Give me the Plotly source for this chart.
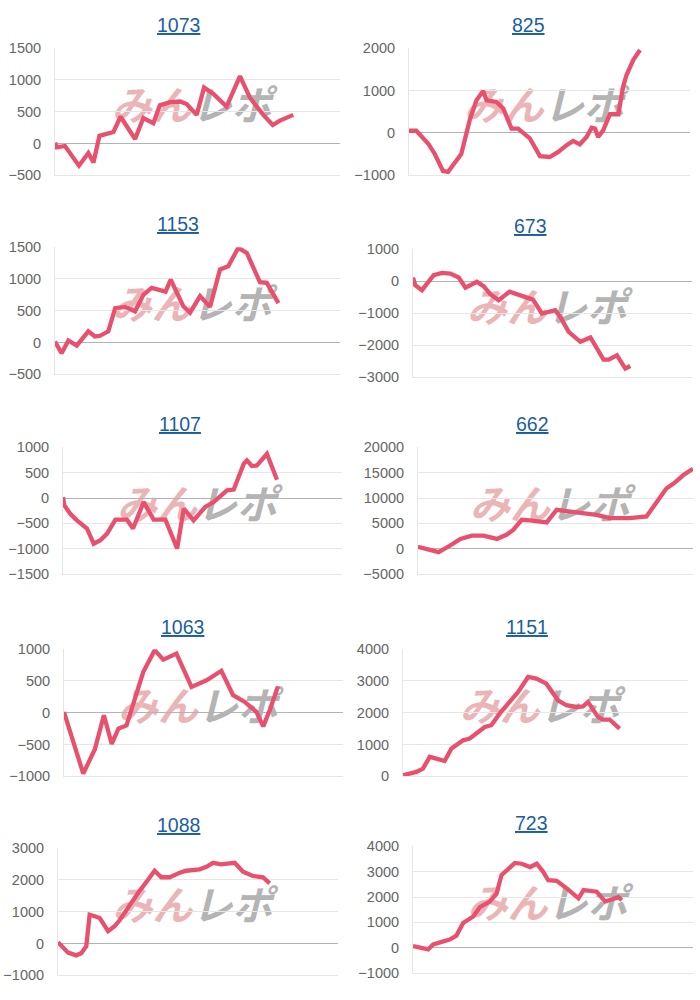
import plotly.graph_objects as go

# ---------------- data ----------------
titles = ["1073", "825", "1153", "673", "1107", "662", "1063", "1151", "1088", "723"]

x_1073 = [0, 0.6, 3.5, 8.4, 11.7, 13.5, 15.6, 18.1, 20.5, 23.0, 28.1, 31.0, 34.5, 36.8, 40.4, 43.9,
          46.2, 49.7, 52.3, 55.6, 60.2, 64.9, 68.4, 73.1, 76.4, 78.9, 83.6]
y_1073 = [10, -60, -40, -350, -150, -300, 120, 150, 180, 420, 70, 400, 320, 600, 650, 660,
          620, 450, 880, 780, 580, 1060, 720, 450, 290, 360, 450]

x_825 = [0, 2.6, 6.8, 9.1, 12.1, 13.9, 15.7, 18.6, 21.6, 24.0, 26.4, 27.6, 31.1, 33.5, 36.5, 38.8,
         43.0, 44.8, 46.6, 50.1, 53.1, 56.1, 58.4, 60.8, 63.2, 65.0, 66.2, 67.3, 69.1, 71.5, 74.5,
         76.2, 77.4, 79.8, 82.2]
y_825 = [50, 50, -250, -490, -900, -920, -760, -500, 300, 770, 990, 770, 730, 580, 100, 100,
         -130, -330, -550, -570, -450, -290, -190, -270, -95, 120, 100, -95, 60, 440, 440,
         1090, 1365, 1720, 1957]

x_1153 = [0, 2.3, 4.7, 7.6, 11.7, 14.0, 15.8, 18.7, 21.1, 24.6, 28.1, 31.0, 33.9, 36.8, 38.8, 40.6,
          42.7, 45.0, 47.4, 50.9, 54.4, 57.9, 60.8, 64.3, 67.3, 70.8, 71.9, 74.3, 78.4]
y_1153 = [15, -170, 30, -50, 175, 95, 105, 175, 540, 560, 490, 750, 860, 830, 800, 990,
          780, 570, 470, 730, 560, 1150, 1200, 1490, 1410, 1040, 950, 940, 620]

x_673 = [0, 0.8, 3.2, 7.4, 10.4, 13.4, 16.4, 18.8, 22.9, 25.3, 27.7, 30.7, 34.6, 37.3, 40.3, 43.0,
         46.2, 48.6, 51.0, 52.8, 55.8, 60.0, 63.6, 68.3, 70.1, 73.1, 76.1, 77.9]
y_673 = [115, -125, -280, 190, 260, 240, 115, -200, -20, -155, -405, -595, -330, -405, -490, -575,
         -1010, -960, -905, -1115, -1585, -1895, -1760, -2450, -2450, -2315, -2730, -2650]

x_1107 = [0, 0.5, 2.6, 5.0, 8.6, 11.0, 13.4, 15.8, 18.8, 22.9, 25.1, 28.9, 32.5, 36.7, 40.9, 43.3,
          46.8, 51.0, 54.0, 58.8, 61.2, 64.8, 65.9, 67.7, 69.5, 73.1, 76.7]
y_1107 = [20, -145, -310, -440, -600, -900, -830, -700, -425, -425, -600, -80, -425, -425, -995, -210,
          -440, -175, -80, 150, 165, 675, 740, 630, 640, 870, 360]

x_662 = [0, 3.3, 7.5, 11.7, 15.4, 19.6, 23.8, 28.7, 32.3, 34.7, 37.7, 40.7, 46.8, 50.4, 55.3, 60.1,
         64.9, 69.8, 77.0, 83.1, 86.7, 90.3, 93.3, 96.4, 100]
y_662 = [390, -130, -650, 650, 1950, 2600, 2600, 1950, 2800, 3760, 5700, 5580, 5190, 7660, 7330, 7010,
         6680, 6040, 6040, 6360, 8960, 11880, 12980, 14470, 15770]

x_1063 = [0, 6.9, 11.1, 14.3, 17.1, 19.5, 22.4, 28.4, 32.5, 35.6, 40.3, 45.7, 51.1, 56.4, 60.6, 64.8,
          69.0, 71.4, 73.7, 76.7]
y_1063 = [10, -960, -570, -40, -490, -250, -200, 640, 985, 835, 930, 405, 510, 660, 275, 170,
          10, -215, 35, 415]

x_1151 = [0, 2.9, 4.7, 7.0, 9.4, 11.7, 14.6, 17.0, 18.7, 21.1, 23.4, 26.3, 28.7, 31.0, 33.9, 37.4,
          40.4, 43.9, 46.8, 50.3, 54.4, 57.3, 60.8, 63.2, 64.9, 68.4, 70.2, 72.5, 76.0]
y_1151 = [30, 85, 135, 240, 610, 555, 480, 870, 975, 1130, 1185, 1395, 1550, 1605, 1970, 2340,
          2655, 3125, 3075, 2915, 2390, 2235, 2180, 2200, 2340, 1870, 1785, 1785, 1500]

x_1088 = [0, 1.8, 3.6, 6.5, 8.3, 10.1, 11.3, 13.1, 14.9, 17.9, 20.2, 22.0, 24.4, 26.8, 29.2, 32.1,
          34.5, 36.9, 39.9, 43.5, 45.8, 50.6, 53.0, 55.4, 58.3, 61.3, 63.1, 66.1, 69.6, 73.2, 75.6]
y_1088 = [40, -135, -290, -375, -310, -85, 905, 855, 800, 385, 540, 730, 1060, 1375, 1665, 2000,
          2290, 2085, 2085, 2230, 2290, 2335, 2415, 2540, 2490, 2520, 2540, 2260, 2125, 2085, 1895]

x_723 = [0, 2.4, 5.4, 7.2, 10.1, 13.1, 15.5, 17.9, 21.5, 23.9, 27.4, 29.8, 31.6, 33.4, 36.4, 38.8,
         41.8, 44.2, 46.5, 48.3, 51.3, 54.9, 57.3, 59.1, 60.9, 63.2, 65.6, 68.6, 71.6, 73.4, 74.6]
y_723 = [65, 0, -65, 130, 220, 325, 480, 975, 1235, 1600, 1820, 2120, 2860, 3050, 3340, 3310,
         3180, 3310, 2990, 2660, 2640, 2340, 2120, 1950, 2275, 2250, 2210, 1820, 1950, 1990, 1880]

series_x = [x_1073, x_825, x_1153, x_673, x_1107, x_662, x_1063, x_1151, x_1088, x_723]
series_y = [y_1073, y_825, y_1153, y_673, y_1107, y_662, y_1063, y_1151, y_1088, y_723]

y_ranges = [[-500, 1500], [-1000, 2000], [-500, 1500], [-3000, 1000], [-1500, 1000],
            [-5000, 20000], [-1000, 1000], [0, 4000], [-1000, 3000], [-1000, 4000]]
y_dticks = [500, 1000, 500, 1000, 500, 5000, 500, 1000, 1000, 1000]

watermark_a = "みん"
watermark_b = "レポ"

# ---------------- layout (pixels) ----------------
W, H = 700, 1000
plot_px = [  # left, right, top, bottom
    (55, 340, 48, 175), (409, 690, 48, 175),
    (55, 340, 247, 374), (413, 692, 249, 377),
    (63, 342, 447, 574), (418, 693, 447, 574),
    (64, 343, 649, 776), (403, 688, 649, 776),
    (58, 338, 848, 975), (413, 693, 846, 973),
]
title_px = [(178, 25), (528, 25), (178, 224), (530, 226), (180, 424),
            (532, 424), (182, 627), (527, 627), (178, 825), (531, 823)]


def vy(p):
    # vertical pixel -> paper fraction (with small calibration of the page photo)
    q = (p - 7.8) / 0.984
    return 1 - q / H


LINE = "#e9506e"
GRID = "#e6e6e6"
ZERO = "#b3b3b3"
TICK = "#666666"
TITLE = "#1b5e9f"

fig = go.Figure()
annotations = []
shapes = []
layout = {}

for i in range(10):
    n = "" if i == 0 else str(i + 1)
    xa, ya = "x" + n, "y" + n
    l, r, t, b = plot_px[i]
    layout["xaxis" + n] = dict(
        domain=[l / W, r / W], range=[0, 100], anchor=ya,
        showgrid=False, zeroline=False, showticklabels=False,
        showline=True, linecolor=GRID, linewidth=1, fixedrange=True,
    )
    layout["yaxis" + n] = dict(
        domain=[vy(b), vy(t)], range=y_ranges[i], dtick=y_dticks[i], anchor=xa,
        tickformat="d",
        showgrid=True, gridcolor=GRID, gridwidth=1,
        zeroline=True, zerolinecolor=ZERO, zerolinewidth=1,
        showline=True, linecolor=GRID, linewidth=1,
        tickfont=dict(family="Liberation Sans, Arial, sans-serif", size=14.5, color=TICK),
        ticklabelstandoff=10, fixedrange=True,
    )
    fig.add_trace(go.Scatter(
        x=series_x[i], y=series_y[i], mode="lines",
        line=dict(color=LINE, width=4.3), xaxis=xa, yaxis=ya,
        hoverinfo="skip", showlegend=False,
    ))
    tx, ty = title_px[i]
    annotations.append(dict(
        text="<u>" + titles[i] + "</u>", x=tx / W, y=vy(ty),
        xref="paper", yref="paper", xanchor="center", yanchor="middle", showarrow=False,
        font=dict(family="Liberation Sans, Arial, sans-serif", size=19.5, color=TITLE),
    ))
    shapes.append(dict(
        type="rect", xref=xa + " domain", yref=ya + " domain",
        x0=0.13, x1=0.83, y0=0.32, y1=0.72,
        line=dict(width=0), fillcolor="rgba(0,0,0,0)", layer="below",
        label=dict(
            text="<b><i><span style='color:#ebb4b6'>" + watermark_a + "</span>"
                 "<span style='color:#b4b4b4'>" + watermark_b + "</span></i></b>",
            textposition="middle center",
            font=dict(family="Noto Sans CJK JP", size=40, color="#b4b4b4"),
        ),
    ))

fig.update_layout(
    width=W, height=H, margin=dict(l=0, r=0, t=0, b=0),
    paper_bgcolor="white", plot_bgcolor="white",
    annotations=annotations, shapes=shapes, showlegend=False,
    **layout,
)

fig.write_html(
    "out.html", config={"displayModeBar": False, "responsive": False},
    post_script=(
        "document.documentElement.style.margin='0';"
        "document.body.style.margin='0';"
        "document.body.style.overflow='hidden';"
    ),
)
